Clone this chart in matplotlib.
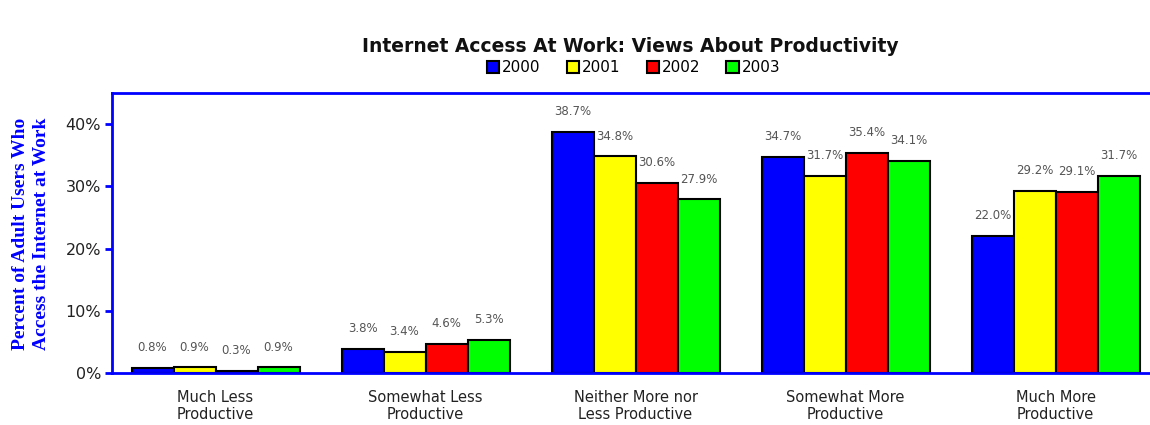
import matplotlib
matplotlib.use("Agg")
import matplotlib.pyplot as plt
import numpy as np
from matplotlib.patches import Patch

categories = ["Much Less\nProductive", "Somewhat Less\nProductive",
              "Neither More nor\nLess Productive", "Somewhat More\nProductive",
              "Much More\nProductive"]
years = ["2000", "2001", "2002", "2003"]
v2000 = [0.8, 3.8, 38.7, 34.7, 22.0]
v2001 = [0.9, 3.4, 34.8, 31.7, 29.2]
v2002 = [0.3, 4.6, 30.6, 35.4, 29.1]
v2003 = [0.9, 5.3, 27.9, 34.1, 31.7]
series = [v2000, v2001, v2002, v2003]
colors = ["#0000FF", "#FFFF00", "#FF0000", "#00FF00"]
yticks = [0, 10, 20, 30, 40]
ytick_labels = ["0%", "10%", "20%", "30%", "40%"]

fig = plt.figure(figsize=(11.5, 4.25), dpi=100)
ax = fig.add_axes([112/1150, 52/425, 1038/1150, 280/425])

x = np.arange(len(categories))
w = 0.2
for i, (vals, c) in enumerate(zip(series, colors)):
    pos = x + (i - 1.5) * w
    ax.bar(pos, vals, width=w, color=c, edgecolor="black", linewidth=1.5, zorder=2)
    for p, v in zip(pos, vals):
        ax.annotate(f"{v:.1f}%", (p, v), xytext=(0, 10), textcoords="offset points",
                    ha="center", va="bottom", fontsize=8.5, color="#555555")

ax.set_xlim(-0.493, -0.493 + 1038/210)
ax.set_ylim(0, 45)
ax.set_yticks(yticks)
ax.set_yticklabels(ytick_labels, fontsize=11.5, color="#222222")
ax.set_xticks(x)
ax.set_xticklabels(categories, fontsize=10.5, color="#222222")
ax.tick_params(axis="x", length=0, pad=12)
ax.tick_params(axis="y", color="#0000FF", width=2, length=5, pad=3)

for s in ["left", "top", "bottom"]:
    ax.spines[s].set_color("#0000FF")
    ax.spines[s].set_linewidth(2)
ax.spines["right"].set_visible(False)

fig.text(0.027, 1 - 234/425, "Percent of Adult Users Who\nAccess the Internet at Work",
         rotation=90, ha="center", va="center", color="#0000FF",
         family="Liberation Serif", fontweight="bold", fontsize=14, linespacing=1.25)

fig.text(0.548, 1 - 47/425, "Internet Access At Work: Views About Productivity",
         ha="center", va="center", fontsize=13.5, fontweight="bold", color="#111111")

handles = [Patch(facecolor=c, edgecolor="black", linewidth=1.5, label=y)
           for c, y in zip(colors, years)]
fig.legend(handles=handles, loc="center", bbox_to_anchor=(0.551, 1 - 68/425), ncol=4,
           frameon=False, fontsize=11, handlelength=0.8, handleheight=0.8,
           handletextpad=0.2, columnspacing=1.7)

fig.savefig("out.png", dpi=100)
